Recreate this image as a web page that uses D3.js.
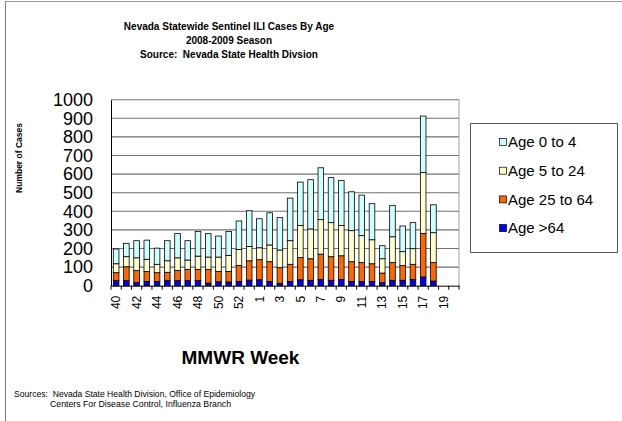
<!DOCTYPE html>
<html>
<head>
<meta charset="utf-8">
<script src="https://cdn.jsdelivr.net/npm/d3@7"></script>
<style>
  body { margin: 0; background: #fff; }
  text { font-family: "Liberation Sans", Arial, sans-serif; }
</style>
</head>
<body>
<div id="chart"></div>
<script>
// MMWR weeks of the 2008-2009 season (2008 had a week 53)
var weeks = ['40','41','42','43','44','45','46','47','48','49','50','51','52','53',
  '1','2','3','4','5','6','7','8','9','10','11','12','13','14','15','16','17','18','19','20']

// cases per age group
var age0to4 = [79,72,92,103,87,108,130,104,133,126,113,129,153,192,156,173,174,229,233,265,279,242,241,209,218,194,70,169,138,140,303,150,0,0]
var age5to24 = [48,54,69,65,45,62,68,50,71,66,77,86,86,77,64,90,95,127,172,160,185,183,163,167,145,129,77,139,75,84,328,161,0,0]
var age25to64 = [43,75,63,54,47,45,55,61,61,74,56,57,86,104,108,106,84,93,120,116,136,127,127,106,101,95,52,95,79,81,234,99,0,0]
var age65plus = [27,27,18,23,23,27,27,27,27,14,21,20,23,30,32,23,13,22,32,29,34,29,34,23,23,23,16,29,29,34,47,25,0,0]

var yTicks = [0,100,200,300,400,500,600,700,800,900,1000]
var xLabels = weeks.filter(function(d, i) { return i % 2 == 0 })

var keys = ['a65', 'a25', 'a5', 'a0']
var names = {a0: 'Age 0 to 4', a5: 'Age 5 to 24', a25: 'Age 25 to 64', a65: 'Age >64'}
var colors = {a0: '#ccffff', a5: '#ffffcc', a25: '#ff6600', a65: '#0000ff'}

var rows = weeks.map(function(w, i) {
  return {week: w, a0: age0to4[i], a5: age5to24[i], a25: age25to64[i], a65: age65plus[i]}
})

var width = 622
var height = 421
var plotLeft = 111, plotRight = 459, plotTop = 99.7, plotBottom = 285.7

var svg = d3.select('#chart').append('svg')
  .attr('width', width)
  .attr('height', height)

// outer frame (left and top edges only show)
svg.append('line').attr('x1', 5.5).attr('x2', 5.5).attr('y1', 1).attr('y2', height)
  .attr('stroke', '#7f7f7f').attr('stroke-width', 1)
svg.append('line').attr('x1', 5).attr('x2', width).attr('y1', 1.5).attr('y2', 1.5)
  .attr('stroke', '#9a9a9a').attr('stroke-width', 1)

var x = d3.scaleBand().domain(weeks).range([plotLeft, plotRight]).paddingInner(0.45).paddingOuter(0.225)
var xStep = d3.scaleBand().domain(weeks).range([plotLeft, plotRight])
var y = d3.scaleLinear().domain([0, 1000]).range([plotBottom, plotTop])

// gridlines
svg.append('g').selectAll('line')
  .data(yTicks.slice(1))
  .enter().append('line')
  .attr('x1', plotLeft).attr('x2', plotRight)
  .attr('y1', function(d) { return y(d) }).attr('y2', function(d) { return y(d) })
  .attr('stroke', '#707070').attr('stroke-width', 1.1)

svg.append('line').attr('x1', plotRight).attr('x2', plotRight).attr('y1', plotTop).attr('y2', plotBottom)
  .attr('stroke', '#a0a0a0')

// stacked bars
var series = d3.stack().keys(keys)(rows)
svg.append('g').selectAll('g')
  .data(series)
  .enter().append('g')
  .attr('fill', function(d) { return colors[d.key] })
  .selectAll('rect')
  .data(function(d) { return d.filter(function(p) { return p[1] - p[0] > 0 }) })
  .enter().append('rect')
  .attr('x', function(d) { return x(d.data.week) })
  .attr('width', x.bandwidth())
  .attr('y', function(d) { return y(d[1]) })
  .attr('height', function(d) { return y(d[0]) - y(d[1]) })
  .attr('stroke', '#000').attr('stroke-width', 0.8)

// y axis
var yAxis = svg.append('g')
  .attr('transform', 'translate(' + plotLeft + ',0)')
  .call(d3.axisLeft(y).tickValues(yTicks).tickFormat(d3.format('d')).tickSize(0).tickPadding(18).tickSizeOuter(0))
yAxis.select('.domain').attr('stroke', '#000')
yAxis.selectAll('text').attr('font-size', 18).attr('fill', '#000')
  .attr('font-family', '"Liberation Sans", Arial, sans-serif')

// x axis
var xAxis = svg.append('g')
  .attr('transform', 'translate(0,' + plotBottom + ')')
  .call(d3.axisBottom(xStep).tickValues(xLabels).tickSize(0).tickSizeOuter(0))
xAxis.select('.domain').attr('stroke', '#000')
xAxis.selectAll('text')
  .attr('font-size', 12).attr('fill', '#000')
  .attr('font-family', '"Liberation Sans", Arial, sans-serif')
  .attr('text-anchor', 'end')
  .attr('transform', 'rotate(-90)')
  .attr('x', -10).attr('y', 0).attr('dy', '0.35em')

svg.append('g').selectAll('line')
  .data(weeks.concat(['end']))
  .enter().append('line')
  .attr('x1', function(d) { return d == 'end' ? plotRight : xStep(d) })
  .attr('x2', function(d) { return d == 'end' ? plotRight : xStep(d) })
  .attr('y1', plotBottom).attr('y2', plotBottom + 4)
  .attr('stroke', '#000')

// titles
var title = ['Nevada Statewide Sentinel ILI Cases By Age', '2008-2009 Season', 'Source:  Nevada State Health Divsion']
var titleY = [30, 44, 57.5]
svg.append('g').selectAll('text')
  .data(title)
  .enter().append('text')
  .attr('x', 229)
  .attr('y', function(d, i) { return titleY[i] })
  .attr('text-anchor', 'middle')
  .attr('font-size', 10).attr('font-weight', 'bold')
  .style('white-space', 'pre')
  .text(function(d) { return d })

svg.append('text')
  .attr('transform', 'translate(21.5,158) rotate(-90)')
  .attr('text-anchor', 'middle')
  .attr('font-size', 8.5).attr('font-weight', 'bold')
  .text('Number of Cases')

svg.append('text')
  .attr('x', 240.5).attr('y', 364)
  .attr('text-anchor', 'middle')
  .attr('font-size', 19).attr('font-weight', 'bold')
  .text('MMWR Week')

svg.append('text')
  .attr('x', 14).attr('y', 397)
  .attr('font-size', 9.5)
  .attr('textLength', 241).attr('lengthAdjust', 'spacingAndGlyphs')
  .style('white-space', 'pre')
  .text('Sources:  Nevada State Health Division, Office of Epidemiology')
svg.append('text')
  .attr('x', 50).attr('y', 406.5)
  .attr('font-size', 9.5)
  .attr('textLength', 181).attr('lengthAdjust', 'spacingAndGlyphs')
  .text('Centers For Disease Control, Influenza Branch')

// legend
svg.append('rect')
  .attr('x', 470.5).attr('y', 123.5).attr('width', 147).attr('height', 129)
  .attr('fill', 'none').attr('stroke', '#555')

var items = svg.append('g').selectAll('g')
  .data(keys.slice().reverse())
  .enter().append('g')
  .attr('transform', function(d, i) { return 'translate(499,' + (142 + i * 28.7) + ')' })
items.append('rect')
  .attr('x', 0.5).attr('y', -3.5).attr('width', 7).attr('height', 7)
  .attr('fill', function(d) { return colors[d] })
  .attr('stroke', '#000').attr('stroke-width', 0.7)
items.append('text')
  .attr('x', 9).attr('y', 5.3)
  .attr('font-size', 15)
  .text(function(d) { return names[d] })
</script>
</body>
</html>
